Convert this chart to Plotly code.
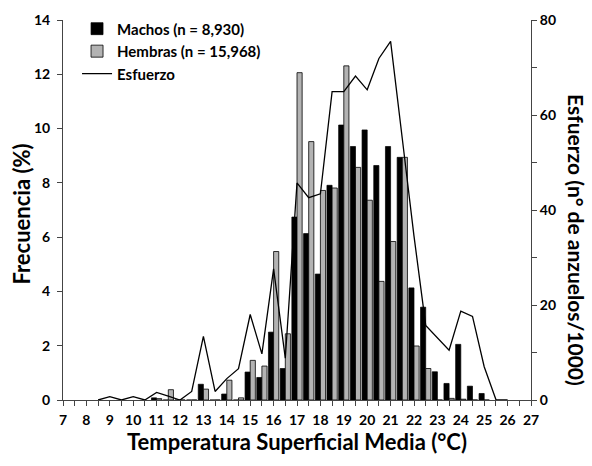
import plotly.graph_objects as go

bins = [11, 11.5, 12, 12.5, 13, 13.5, 14, 14.5, 15, 15.5, 16, 16.5, 17, 17.5, 18,
        18.5, 19, 19.5, 20, 20.5, 21, 21.5, 22, 22.5, 23, 23.5, 24, 24.5, 25]
machos = [0.08, 0, 0, 0, 0.58, 0, 0.22, 0, 1.03, 0.83, 2.5, 1.16, 6.74, 6.13, 4.64,
          7.91, 10.13, 9.34, 9.95, 8.64, 9.34, 8.94, 4.13, 3.42, 1.04, 0.61, 2.05, 0.51, 0.24]
hembras = [0.05, 0.38, 0, 0, 0.40, 0, 0.73, 0.08, 1.46, 1.25, 5.47, 2.44, 12.06, 9.52, 7.72,
           7.81, 12.31, 8.57, 7.36, 4.37, 5.84, 8.94, 1.99, 1.16, 0, 0.06, 0.03, 0, 0]

temp_esf = [8.5, 9, 9.5, 10, 10.5, 11, 11.5, 12, 12.5, 13, 13.5, 14, 14.5, 15, 15.5, 16,
            16.5, 17, 17.5, 18, 18.5, 19, 19.5, 20, 20.5, 21, 21.5, 22, 22.5, 23, 23.5,
            24, 24.5, 25, 25.5, 26]
esfuerzo = [0, 0.7, 0, 0.7, 0, 1.6, 0.8, 0, 1.8, 13.4, 1.8, 4.5, 6.6, 18.0, 9.7, 27.6,
            8.8, 45.7, 42.6, 43.4, 64.9, 64.9, 68.2, 65.3, 71.9, 75.5, 55.0, 34.5, 15.7, 13.1, 10.5,
            18.7, 17.6, 7.0, 0.1, 0]

x_ticks = list(range(7, 28))

FONT = "Lato"

fig = go.Figure()
fig.add_trace(go.Bar(x=bins, y=machos, name="Machos (n = 8,930)",
                     marker=dict(color="black", line=dict(color="black", width=0.7))))
fig.add_trace(go.Bar(x=bins, y=hembras, name="Hembras (n = 15,968)",
                     marker=dict(color="#b3b3b3", line=dict(color="black", width=0.8))))
fig.add_trace(go.Scatter(x=temp_esf, y=esfuerzo, name="Esfuerzo", mode="lines",
                         line=dict(color="black", width=1.3), yaxis="y2"))

axis_font = dict(family=FONT, size=14, color="black", weight="bold")
title_font = dict(family=FONT, size=21, color="black", weight="bold")

fig.update_layout(
    width=592, height=466,
    margin=dict(l=63, r=61, t=18, b=66),
    paper_bgcolor="white", plot_bgcolor="white",
    barmode="group", bargap=0.12, bargroupgap=0,
    font=dict(family=FONT, color="black"),
    showlegend=True,
    legend=dict(x=0.03, y=1.02, xanchor="left", yanchor="top",
                font=dict(family=FONT, size=15, color="black", weight="bold"),
                tracegroupgap=0, itemwidth=30, bgcolor="rgba(0,0,0,0)"),
    xaxis=dict(range=[7, 27], tickvals=x_ticks, ticks="outside", ticklen=5,
               tickcolor="#444", linecolor="#444", linewidth=1, showline=True,
               showgrid=False, zeroline=False, tickfont=axis_font, ticklabelstandoff=2,
               minor=dict(dtick=0.5, ticks="outside", ticklen=5, tickcolor="#444"),
               title=dict(text="Temperatura Superficial Media (°C)",
                          font=dict(family=FONT, size=22, color="black", weight="bold"),
                          standoff=7)),
    yaxis=dict(range=[0, 14], dtick=2, ticks="outside", ticklen=5,
               tickcolor="#444", linecolor="#444", linewidth=1, showline=True,
               showgrid=False, zeroline=False, tickfont=axis_font, ticklabelstandoff=4),
    yaxis2=dict(range=[0, 80], tickvals=[0, 20, 40, 60, 80], overlaying="y", side="right",
                ticks="outside", ticklen=5, tickcolor="#444", linecolor="#444",
                linewidth=1, showline=True, showgrid=False, zeroline=False,
                tickfont=axis_font,
                minor=dict(dtick=10, ticks="outside", ticklen=5, tickcolor="#444")),
)

fig.add_annotation(text="Frecuencia (%)", textangle=-90,
                   xref="paper", yref="paper", x=-0.088, y=0.49,
                   xanchor="center", yanchor="middle", showarrow=False,
                   font=dict(family=FONT, size=22, color="black", weight="bold"))

fig.add_annotation(text="Esfuerzo (n° de anzuelos/1000)", textangle=90,
                   xref="paper", yref="paper", x=1.097, y=0.42,
                   xanchor="center", yanchor="middle", showarrow=False,
                   font=title_font)

fig.write_html("out.html")
